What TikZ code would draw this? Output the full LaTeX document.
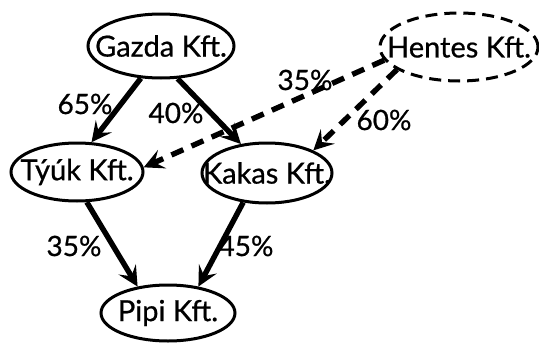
\documentclass[tikz,border=0pt]{standalone}
\usepackage{fontspec}
\setmainfont{Lato}[FakeBold=0.7]
\usetikzlibrary{shapes.geometric,arrows.meta}
\begin{document}
\begin{tikzpicture}[x=1pt,y=-1pt,
  company/.style={ellipse,draw,line width=3pt,inner sep=0pt,font=\fontsize{29}{31}\selectfont},
  own/.style={line width=5.4pt,-{Stealth[length=20pt,width=20pt,inset=8pt]}},
  partown/.style={own,dash pattern=on 13pt off 9pt},
  pct/.style={font=\fontsize{28}{30}\selectfont,inner sep=0pt}]
\useasboundingbox (0,0) rectangle (539,343);
% companies (the label box has no width, so the ellipse keeps its set size)
\node[company,minimum width=146pt,minimum height=64pt] (gazda) at (161,46) {\makebox[0pt]{Gazda Kft.}};
\node[company,dash pattern=on 12pt off 7pt,minimum width=158pt,minimum height=68pt] (hentes) at (459,47) {\makebox[0pt]{Hentes Kft.}};
\node[company,minimum width=132pt,minimum height=58pt] (tyuk) at (77,172) {\makebox[0pt]{Týúk Kft.}};
\node[company,minimum width=130pt,minimum height=60pt] (kakas) at (267,173) {\makebox[0pt]{Kakas Kft.}};
\node[company,minimum width=134pt,minimum height=56pt] (pipi) at (168,313) {\makebox[0pt]{Pipi Kft.}};
% ownership links
\draw[own] (gazda.238) -- (tyuk.64);
\draw[own] (gazda.297) -- (kakas.132);
\draw[partown] (hentes.190) -- (tyuk.4);
\draw[partown] (hentes.200) -- (kakas.26);
\draw[own] (tyuk.288) -- (pipi.139);
\draw[own] (kakas.231) -- (pipi.41);
% shares
\node[pct] (p1) at (85,104) {65\%};
\node[pct] (p2) at (176,113) {40\%};
\node[pct] (p3) at (305,80) {35\%};
\node[pct] (p4) at (384,120) {60\%};
\node[pct] (p5) at (74,246) {35\%};
\node[pct] (p6) at (246,246) {45\%};
\end{tikzpicture}
\end{document}
